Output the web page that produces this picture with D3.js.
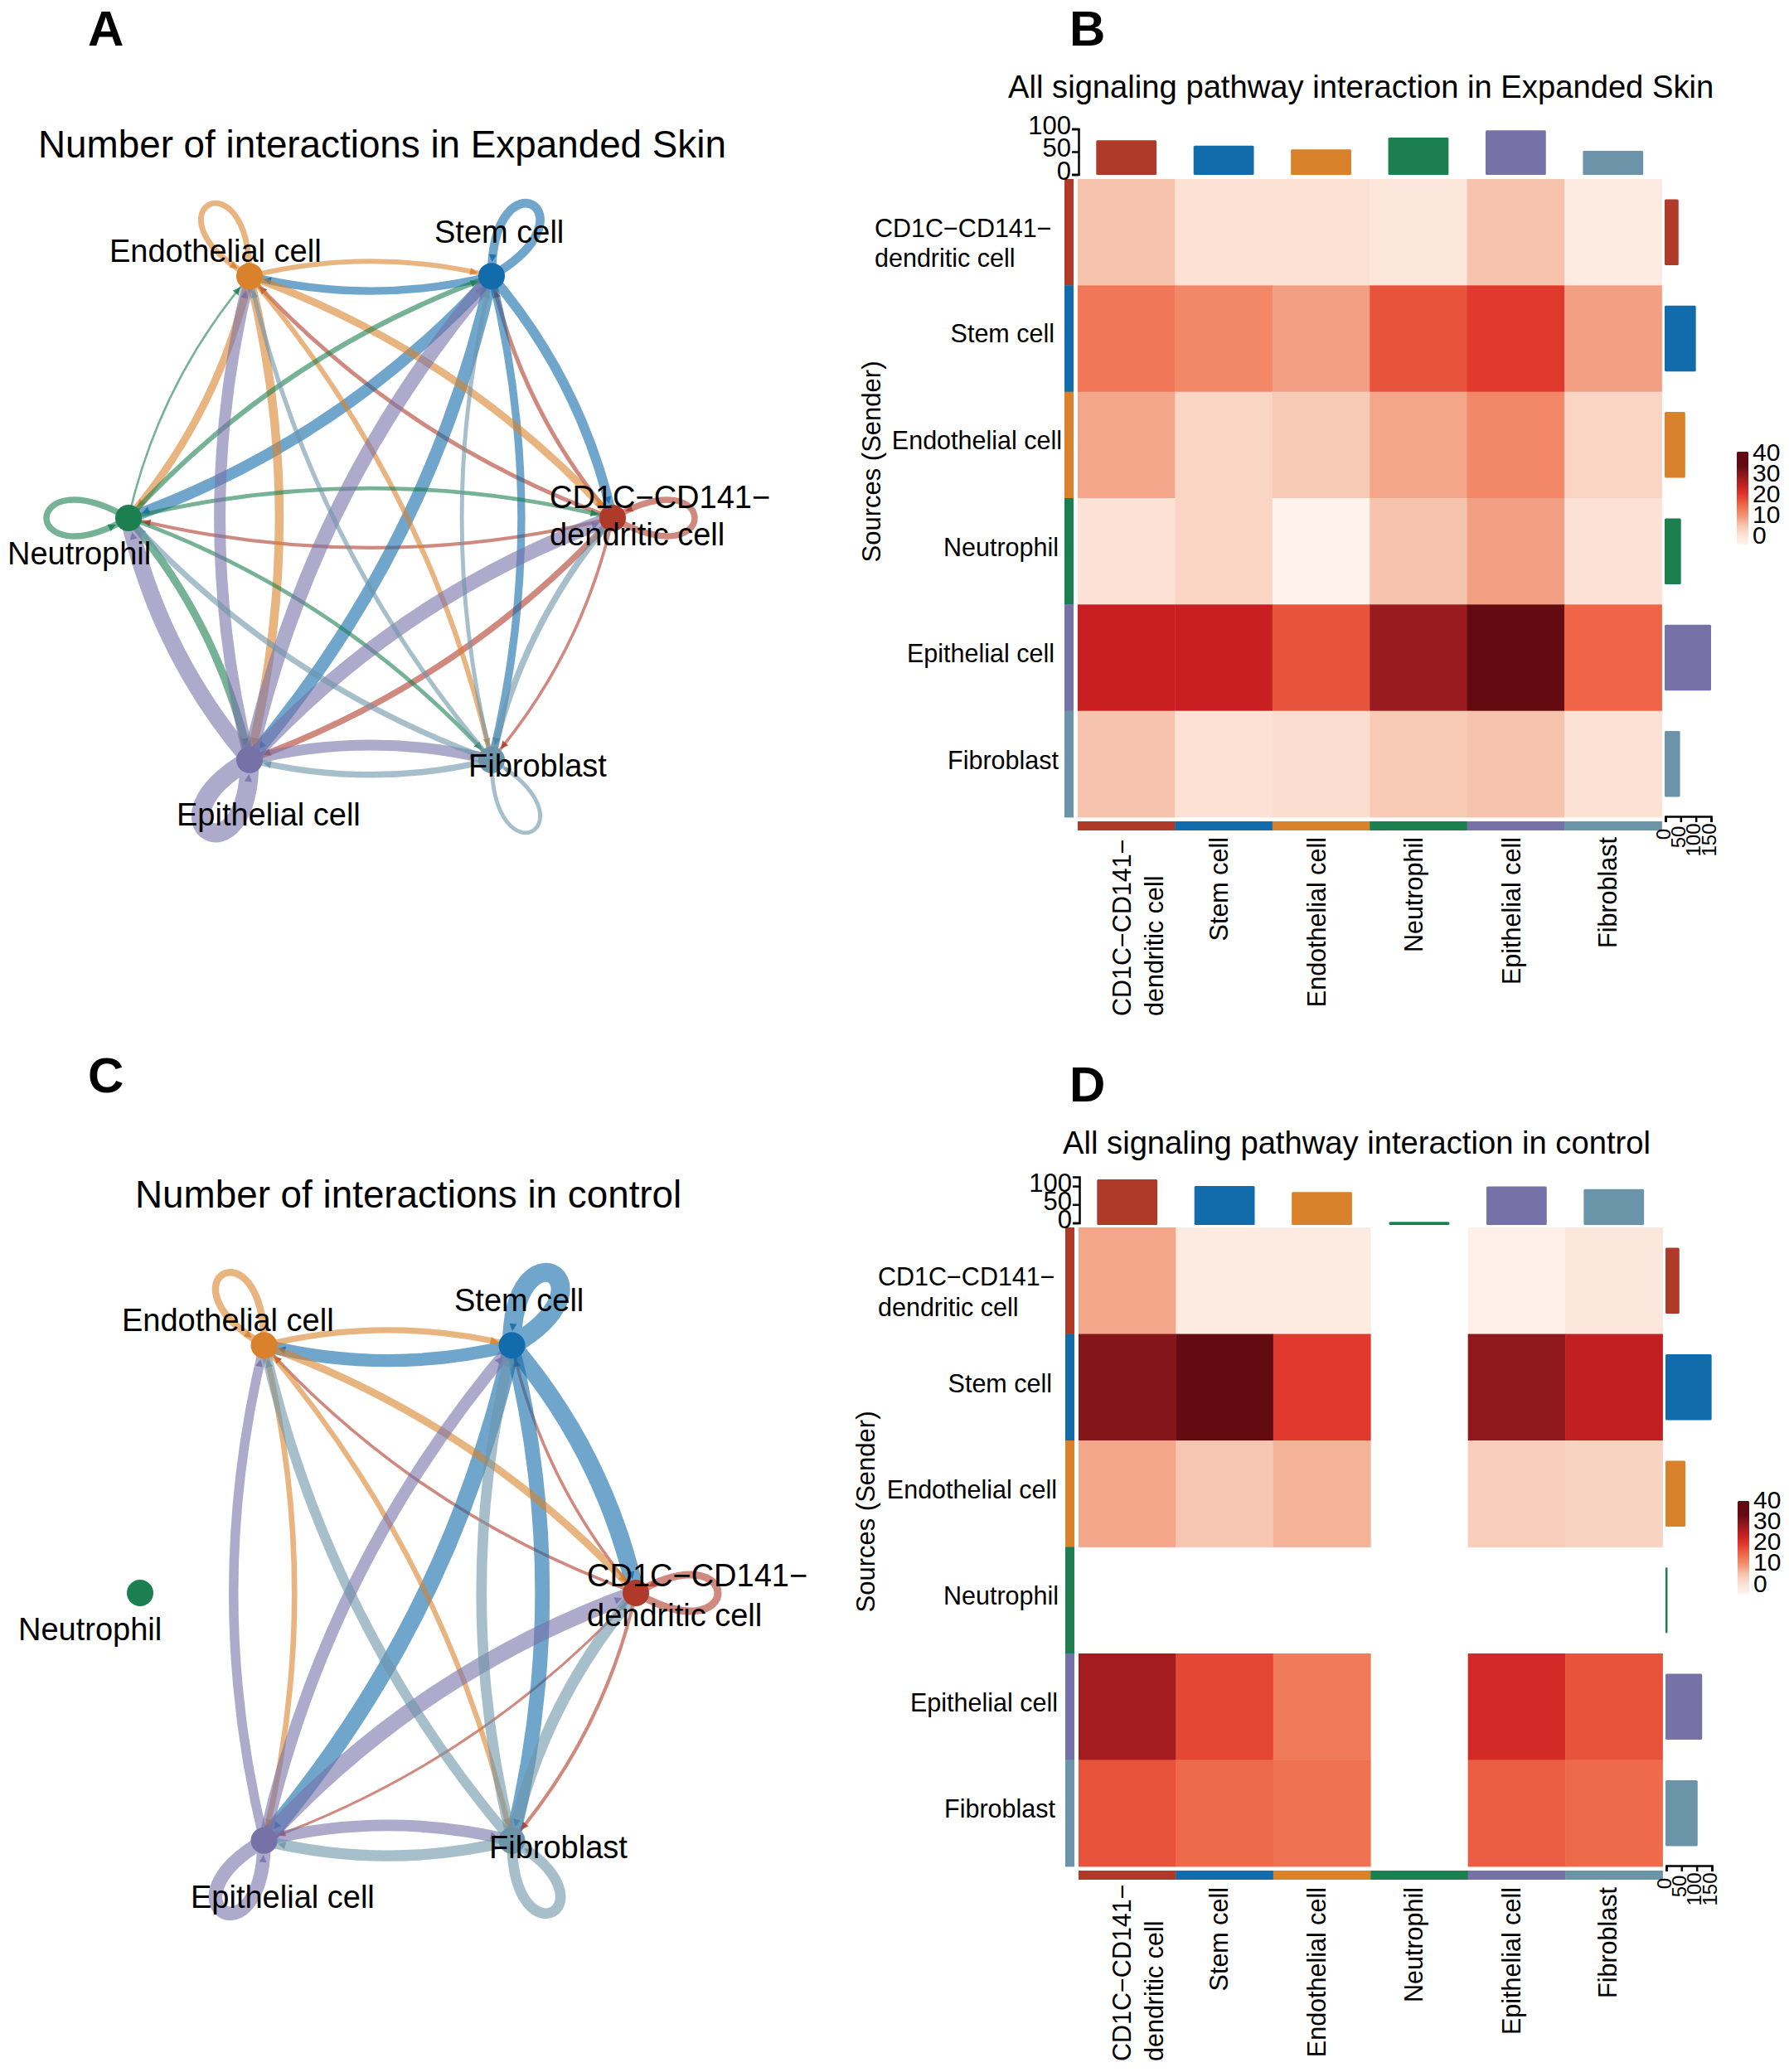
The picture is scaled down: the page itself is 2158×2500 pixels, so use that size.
<!DOCTYPE html>
<html><head><meta charset="utf-8">
<script src="https://cdn.jsdelivr.net/npm/d3@7"></script>
<style>html,body{margin:0;padding:0;background:#fff}text{font-family:"Liberation Sans",Arial,sans-serif;fill:#000}</style>
</head><body><svg id="c" width="2158" height="2500" xmlns="http://www.w3.org/2000/svg"></svg>
<script>
// ---- data ----
const cellTypes = ["CD1C−CD141− dendritic cell","Stem cell","Endothelial cell","Neutrophil","Epithelial cell","Fibroblast"];
const groupColors = ["#B03A2A","#126BAA","#D9822B","#1B7F50","#7672A8","#6C94A8"];
const nodeAngles = [0,60,120,180,240,300];

const heatExpanded = [
 [8.5,4.2,4.2,3,8.5,2],
 [15.5,13.5,11.5,19,21.5,11.5],
 [11,6,7.5,11,13.5,6],
 [4,6,0.3,8.5,11.5,4],
 [25,25,19,29,34,17.5],
 [8.5,4.2,4.8,7.5,8.5,4.2]];
const heatControl = [
 [11,2,2,null,1,3],
 [31,34,21.5,null,30,25.5],
 [11,8,10,null,7,6.3],
 [null,null,null,null,null,null],
 [28,20,15,null,23.5,19],
 [19,17,16,null,18,17]];
const topExpanded = [75,63,55,81,97,52];
const sideExpanded = [43,100,65,51,150,48];
const topControl = [118,100,84,3,99,92];
const sideControl = [43,149,63,4,118,103];
const topTicks = [0,50,100];
const sideTicks = [0,50,100,150];
const legendTicks = [0,10,20,30,40];
const colorDomain = [0,4.5,9,13,17,21,25,29,34];
const colorRange = ["#FEF3EE","#FCE0D3","#F5BFA8","#F28C6C","#EE6A4A","#E23B2E","#C82022","#991B1F","#640B11"];

// ---- helpers ----
const svg = d3.select("#c");
const color = d3.scaleLinear().domain(colorDomain).range(colorRange).clamp(true);
const edgeWidth = d3.scaleLinear().domain([0,34]).range([2.4,23]);
function txt(g,s,x,y,size,o={}){
  const t=g.append("text").attr("x",x).attr("y",y).attr("font-size",size).text(s);
  if(o.anchor)t.attr("text-anchor",o.anchor);
  if(o.weight)t.attr("font-weight",o.weight);
  if(o.rot)t.attr("transform",`rotate(-90 ${x} ${y})`);
  return t;
}
function bez(p0,c1,c2,p3,t){const u=1-t;return [0,1].map(i=>u*u*u*p0[i]+3*u*u*t*c1[i]+3*u*t*t*c2[i]+t*t*t*p3[i]);}

function network(cfg){
  const g=svg.append("g");
  const sx=d3.scaleLinear().domain([-1,1]).range(cfg.xRange);
  const sy=d3.scaleLinear().domain([-1,1]).range(cfg.yRange);
  const nodes=nodeAngles.map(a=>{const r=a*Math.PI/180;return {x:sx(Math.cos(r)),y:sy(Math.sin(r)),dx:Math.cos(r),dy:-Math.sin(r)};});
  const R=16;
  const edges=[];
  cfg.matrix.forEach((row,i)=>row.forEach((v,j)=>{if(v!=null)edges.push({i,j,v});}));
  edges.sort((a,b)=>a.i-b.i);
  edges.forEach(e=>{
    const a=nodes[e.i],b=nodes[e.j];
    const p0=[a.x,a.y],p3=[b.x,b.y];let c1,c2;
    if(e.i===e.j){
      const L=132,w=76,lx=-a.dy,ly=a.dx;
      c1=[a.x+a.dx*L+lx*w,a.y+a.dy*L+ly*w];
      c2=[a.x+a.dx*L-lx*w,a.y+a.dy*L-ly*w];
    }else{
      const dx=b.x-a.x,dy=b.y-a.y,k=0.082;
      // bulge to the traveller's left as seen on screen
      const nx=dy*k,ny=-dx*k;
      c1=[a.x+dx/3+nx,a.y+dy/3+ny];
      c2=[a.x+2*dx/3+nx,a.y+2*dy/3+ny];
    }
    const path=d3.path();path.moveTo(p0[0],p0[1]);path.bezierCurveTo(c1[0],c1[1],c2[0],c2[1],p3[0],p3[1]);
    g.append("path").attr("d",path.toString()).attr("fill","none")
      .attr("stroke",groupColors[e.i]).attr("stroke-opacity",0.6).attr("stroke-width",edgeWidth(e.v));
    // arrowhead at the rim of the target node
    let t=1;let tip=p3;
    for(let s=1;s>0;s-=0.002){const q=bez(p0,c1,c2,p3,s);if(Math.hypot(q[0]-b.x,q[1]-b.y)>=R+1){t=s;tip=q;break;}}
    const back=bez(p0,c1,c2,p3,t-0.02);
    const ang=Math.atan2(tip[1]-back[1],tip[0]-back[0]);
    const len=9,hw=4.5;
    const ax=tip[0]-Math.cos(ang)*len,ay=tip[1]-Math.sin(ang)*len;
    const ap=d3.path();ap.moveTo(tip[0],tip[1]);
    ap.lineTo(ax-Math.sin(ang)*hw,ay+Math.cos(ang)*hw);ap.lineTo(ax+Math.sin(ang)*hw,ay-Math.cos(ang)*hw);ap.closePath();
    g.append("path").attr("d",ap.toString()).attr("fill",groupColors[e.i]).attr("fill-opacity",0.85);
  });
  g.selectAll("circle.n").data(nodes).join("circle").attr("class","n")
    .attr("cx",d=>d.x).attr("cy",d=>d.y).attr("r",R).attr("fill",(d,i)=>groupColors[i]);
  cfg.labels.forEach(l=>l.lines.forEach((s,k)=>txt(g,s,l.x,l.ys[k],cfg.labelSize)));
  txt(g,cfg.title,cfg.titleX,cfg.titleY,cfg.titleSize);
  txt(g,cfg.letter,cfg.letterX,cfg.letterY,60,{weight:"bold"});
}

let gradId=0;
function heatPanel(cfg){
  const g=svg.append("g");
  const n=cellTypes.length,ids=d3.range(n);
  const x=d3.scaleBand().domain(ids).range([cfg.left,cfg.right]);
  const y=d3.scaleBand().domain(ids).range([cfg.top,cfg.bottom]);
  cfg.matrix.forEach((row,i)=>row.forEach((v,j)=>{
    if(v==null)return;
    g.append("rect").attr("x",x(j)).attr("y",y(i)).attr("width",x.bandwidth()+0.4).attr("height",y.bandwidth()+0.4).attr("fill",color(v));
  }));
  // annotation strips
  ids.forEach(i=>{
    g.append("rect").attr("x",cfg.left-16).attr("y",y(i)).attr("width",11).attr("height",y.bandwidth()+0.4).attr("fill",groupColors[i]);
    g.append("rect").attr("x",x(i)).attr("y",cfg.bottom+5).attr("width",x.bandwidth()+0.4).attr("height",11).attr("fill",groupColors[i]);
  });
  // top bars
  const ty=d3.scaleLinear().domain(cfg.topDomain).range(cfg.topRange);
  const bw=x.bandwidth()*0.62;
  cfg.topVals.forEach((v,i)=>g.append("rect").attr("x",x(i)+(x.bandwidth()-bw)/2).attr("y",ty(v)).attr("width",bw)
    .attr("height",ty(0)+cfg.topExtra-ty(v)).attr("rx",1.5).attr("fill",groupColors[i]));
  const ax=g.append("g").attr("transform",`translate(${cfg.left+1},0)`)
    .call(d3.axisLeft(ty).tickValues(topTicks).tickSize(8).tickSizeOuter(8).tickPadding(1));
  ax.selectAll("path,line").attr("stroke","#000").attr("stroke-width",2.5);
  ax.selectAll("text").attr("font-size",31).attr("fill","#000").style("font-family",'"Liberation Sans"').attr("y",-4);
  // side bars
  const bh=y.bandwidth()*0.62;
  const sx=d3.scaleLinear().domain([0,150]).range(cfg.sideRange);
  cfg.sideVals.forEach((v,i)=>g.append("rect").attr("x",sx(0)-1).attr("y",y(i)+(y.bandwidth()-bh)/2).attr("width",sx(v)-sx(0)+1)
    .attr("height",bh).attr("rx",1.5).attr("fill",groupColors[i]));
  const bx=g.append("g").attr("transform",`translate(0,${cfg.bottom-1})`)
    .call(d3.axisBottom(sx).tickValues(sideTicks).tickSize(7).tickSizeOuter(7));
  bx.selectAll("path,line").attr("stroke","#000").attr("stroke-width",2.5);
  bx.selectAll("text").attr("font-size",24).attr("fill","#000").style("font-family",'"Liberation Sans"')
    .attr("text-anchor","middle").attr("dy",0).attr("y",0)
    .attr("transform",d=>`translate(5,${18+3.5*String(d).length}) rotate(-90)`);
  // row labels
  cfg.rowLabels.forEach((l,i)=>{
    if(i===0){txt(g,"CD1C−CD141−",cfg.rowFirstX,l[0],30.5);txt(g,"dendritic cell",cfg.rowFirstX,l[1],30.5);}
    else txt(g,cellTypes[i],l[1],l[0],30.5,{anchor:"end"});
  });
  // column labels
  const colX=cfg.colXs;
  txt(g,"CD1C−CD141−",colX[0][0],cfg.colBase,30.5,{rot:true});
  txt(g,"dendritic cell",colX[0][1],cfg.colBase,30.5,{rot:true});
  ids.slice(1).forEach(i=>txt(g,cellTypes[i],colX[i],cfg.colTop,30.5,{rot:true,anchor:"end"}));
  txt(g,"Sources (Sender)",cfg.srcX,cfg.srcY,31,{rot:true,anchor:"middle"});
  // colour legend
  const id="lg"+(gradId++);
  const lg=svg.append("defs").append("linearGradient").attr("id",id).attr("x1",0).attr("x2",0).attr("y1",1).attr("y2",0);
  d3.range(0,41,2).forEach(v=>lg.append("stop").attr("offset",v/40).attr("stop-color",color(v)));
  g.append("rect").attr("x",cfg.legX).attr("y",cfg.legTop).attr("width",14).attr("height",112).attr("rx",1.5).attr("fill",`url(#${id})`);
  const ly=d3.scaleLinear().domain([0,40]).range(cfg.legLabelRange);
  legendTicks.forEach(v=>txt(g,v,cfg.legX+19,ly(v)+8.5,30));
  txt(g,cfg.title,cfg.titleX,cfg.titleY,cfg.titleSize);
  txt(g,cfg.letter,cfg.letterX,cfg.letterY,60,{weight:"bold"});
}

// ---- panels ----
network({matrix:heatExpanded,xRange:[155,739],yRange:[962,288],labelSize:38,
 title:"Number of interactions in Expanded Skin",titleX:46,titleY:190,titleSize:45.8,letter:"A",letterX:106,letterY:55,
 labels:[
  {lines:["Endothelial cell"],x:132,ys:[316]},
  {lines:["Stem cell"],x:524,ys:[293]},
  {lines:["CD1C−CD141−","dendritic cell"],x:663,ys:[613,658]},
  {lines:["Neutrophil"],x:9,ys:[681]},
  {lines:["Epithelial cell"],x:213,ys:[996]},
  {lines:["Fibroblast"],x:565,ys:[937]}]});
network({matrix:heatControl,xRange:[169,767],yRange:[2267,1577],labelSize:38,
 title:"Number of interactions in control",titleX:163,titleY:1457,titleSize:45.8,letter:"C",letterX:106,letterY:1318,
 labels:[
  {lines:["Endothelial cell"],x:147,ys:[1606]},
  {lines:["Stem cell"],x:548,ys:[1582]},
  {lines:["CD1C−CD141−","dendritic cell"],x:708,ys:[1914,1962]},
  {lines:["Neutrophil"],x:22,ys:[1979]},
  {lines:["Epithelial cell"],x:230,ys:[2302]},
  {lines:["Fibroblast"],x:590,ys:[2242]}]});
heatPanel({matrix:heatExpanded,left:1300,right:2004.5,top:216,bottom:986,
 topVals:topExpanded,topDomain:[0,100],topRange:[210.5,155.5],topExtra:0.5,
 sideVals:sideExpanded,sideRange:[2009,2064],
 rowFirstX:1055,rowLabels:[[286,322],[413,1272],[542,1281],[671,1277],[799,1272],[928,1277]],
 colXs:[[1364,1403],1481,1599,1716,1834,1950],colBase:1226,colTop:1010,
 srcX:1062,srcY:557,legX:2095,legTop:545,legLabelRange:[647,547],
 title:"All signaling pathway interaction in Expanded Skin",titleX:1216,titleY:118,titleSize:38.2,letter:"B",letterX:1290,letterY:55});
heatPanel({matrix:heatControl,left:1301,right:2005.5,top:1481,bottom:2252,
 topVals:topControl,topDomain:[0,125],topRange:[1475.5,1420],topExtra:2.5,
 sideVals:sideControl,sideRange:[2010,2065],
 rowFirstX:1059,rowLabels:[[1551,1588],[1680,1269],[1808,1275],[1936,1277],[2065,1276],[2193,1273]],
 colXs:[[1364,1403],1481,1599,1716,1834,1950],colBase:2487,colTop:2277,
 srcX:1055,srcY:1824,legX:2096,legTop:1811,legLabelRange:[1912,1811],
 title:"All signaling pathway interaction in control",titleX:1282,titleY:1392,titleSize:38.2,letter:"D",letterX:1290,letterY:1329});
</script></body></html>
